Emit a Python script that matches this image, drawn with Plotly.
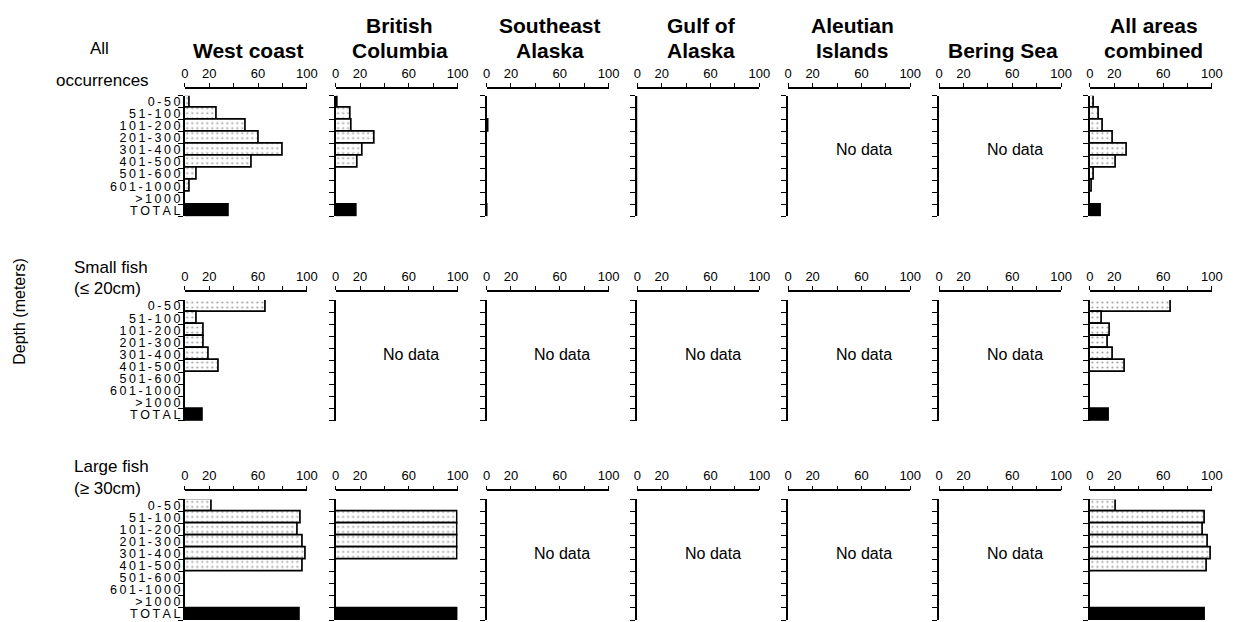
import plotly.graph_objects as go

# ---------------- data ----------------
depth_labels = ["0-50", "51-100", "101-200", "201-300", "301-400", "401-500",
                "501-600", "601-1000", ">1000", "TOTAL"]
region_titles = [["West coast"], ["British", "Columbia"], ["Southeast", "Alaska"],
                 ["Gulf of", "Alaska"], ["Aleutian", "Islands"], ["Bering Sea"],
                 ["All areas", "combined"]]
x_tick_values = [0, 20, 40, 60, 80, 100]
x_tick_labels = ["0", "20", "", "60", "", "100"]

# percent of occurrences by depth, row = fish group, column = region (None = no data)
all_west_coast = [4, 26, 50, 61, 80, 55, 10, 4, 0, 36]
all_british_columbia = [2, 12, 13, 32, 22, 18, 0, 0, 0, 17]
all_southeast_alaska = [0, 0, 2, 0, 0, 0, 0, 0, 0, 0.5]
all_gulf_of_alaska = [0, 0, 0, 0, 0, 0, 0, 0, 0, 0]
all_aleutian_islands = None
all_bering_sea = None
all_combined = [3, 7, 11, 18.5, 30, 21.5, 3, 1.5, 0, 9]

small_west_coast = [66, 9.5, 15.5, 15.5, 19.5, 28, 0, 0, 0, 15]
small_british_columbia = None
small_southeast_alaska = None
small_gulf_of_alaska = None
small_aleutian_islands = None
small_bering_sea = None
small_combined = [66.5, 9.5, 16, 14.5, 19, 28.5, 0, 0, 0, 15.5]

large_west_coast = [22, 95, 92.5, 97, 99.5, 96.5, 0, 0, 0, 94]
large_british_columbia = [0, 100, 100, 100, 100, 0, 0, 0, 0, 100]
large_southeast_alaska = None
large_gulf_of_alaska = None
large_aleutian_islands = None
large_bering_sea = None
large_combined = [21.5, 94, 92.5, 97, 99, 96, 0, 0, 0, 94]

group_rows = [
    [all_west_coast, all_british_columbia, all_southeast_alaska, all_gulf_of_alaska,
     all_aleutian_islands, all_bering_sea, all_combined],
    [small_west_coast, small_british_columbia, small_southeast_alaska, small_gulf_of_alaska,
     small_aleutian_islands, small_bering_sea, small_combined],
    [large_west_coast, large_british_columbia, large_southeast_alaska, large_gulf_of_alaska,
     large_aleutian_islands, large_bering_sea, large_combined],
]

# ---------------- layout geometry (pixels) ----------------
W, H = 1243, 622
def fx(p): return p / W
def fy(p): return 1 - p / H

col_zero = [183 + 152.7 * i for i in range(7)]
panel_w = 123.5
row_axis_line = [87, 291, 491]
row_top = [95, 300, 500]
row_h = 121

FONT = "Liberation Sans"
spaced = ["\u2009".join(list(s)) for s in depth_labels]

fig = go.Figure()
layout = {}
annotations = []
n = len(depth_labels)
for r in range(3):
    for c in range(7):
        idx = r * 7 + c + 1
        sfx = "" if idx == 1 else str(idx)
        vals = group_rows[r][c]
        xs = vals if vals is not None else [None] * n
        fill = ["white"] * (n - 1) + ["black"]
        shapes = ["."] * (n - 1) + [""]
        fig.add_trace(go.Bar(
            x=xs, y=depth_labels, orientation="h",
            xaxis="x" + sfx, yaxis="y" + sfx,
            marker=dict(color=fill, line=dict(color="black", width=1.7),
                        pattern=dict(shape=shapes, fgcolor="#8a8a8a", bgcolor=fill,
                                     size=5, solidity=0.15)),
            showlegend=False, hoverinfo="skip"))
        layout["xaxis" + sfx] = dict(
            domain=[fx(col_zero[c]), fx(col_zero[c] + panel_w)],
            range=[0, 100], side="top", anchor="free", position=fy(row_axis_line[r]),
            tickmode="array", tickvals=x_tick_values, ticktext=x_tick_labels,
            ticks="outside", ticklen=4, tickwidth=1.4, tickcolor="black",
            showline=True, linecolor="black", linewidth=1.8,
            showgrid=False, zeroline=False,
            tickfont=dict(family=FONT, size=13, color="black"))
        layout["yaxis" + sfx] = dict(
            domain=[fy(row_top[r] + row_h), fy(row_top[r])],
            anchor="x" + sfx, type="category",
            categoryorder="array", categoryarray=depth_labels,
            range=[n - 0.5, -0.5],
            tickmode="array", tickvals=depth_labels, ticktext=spaced,
            tickson="boundaries", ticks="outside", ticklen=5, tickwidth=1.4,
            tickcolor="black",
            showline=True, linecolor="black", linewidth=1.8,
            showgrid=False, zeroline=False, showticklabels=(c == 0),
            tickfont=dict(family=FONT, size=12.5, color="black"))
        if vals is None:
            annotations.append(dict(
                xref="x" + sfx, yref="y" + sfx, x=62, y="301-400",
                text="No data", showarrow=False,
                font=dict(family=FONT, size=16, color="black")))

# column titles
for c, lines in enumerate(region_titles):
    cx = fx(col_zero[c] + panel_w / 2 + 3)
    ys = [50] if len(lines) == 1 else [25, 50]
    for line, yy in zip(lines, ys):
        annotations.append(dict(xref="paper", yref="paper", x=cx, y=fy(yy),
                                xanchor="center", yanchor="middle", text="<b>%s</b>" % line,
                                showarrow=False,
                                font=dict(family=FONT, size=21, color="black")))

# row labels
row_labels = [
    ("All", 97, 48, "center"), ("occurrences", 51, 80, "left"),
    ("Small fish", 69, 267, "left"), ("(\u2264 20cm)", 69, 288, "left"),
    ("Large fish", 69, 467, "left"), ("(\u2265 30cm)", 69, 489, "left"),
]
for txt, xx, yy, anc in row_labels:
    annotations.append(dict(xref="paper", yref="paper", x=fx(xx), y=fy(yy),
                            xanchor=anc, yanchor="middle", text=txt, showarrow=False,
                            font=dict(family=FONT, size=17, color="black")))

annotations.append(dict(xref="paper", yref="paper", x=fx(15), y=fy(311),
                        xanchor="center", yanchor="middle", text="Depth (meters)",
                        textangle=-90, showarrow=False,
                        font=dict(family=FONT, size=16, color="black")))

fig.update_layout(**layout)
fig.update_layout(
    width=W, height=H, margin=dict(l=0, r=0, t=0, b=0),
    paper_bgcolor="white", plot_bgcolor="white",
    bargap=0, annotations=annotations,
    font=dict(family=FONT, color="black"))

fig.write_html("out.html", config={"displayModeBar": False},
               post_script="document.body.style.margin='0';document.body.style.overflow='hidden';")
